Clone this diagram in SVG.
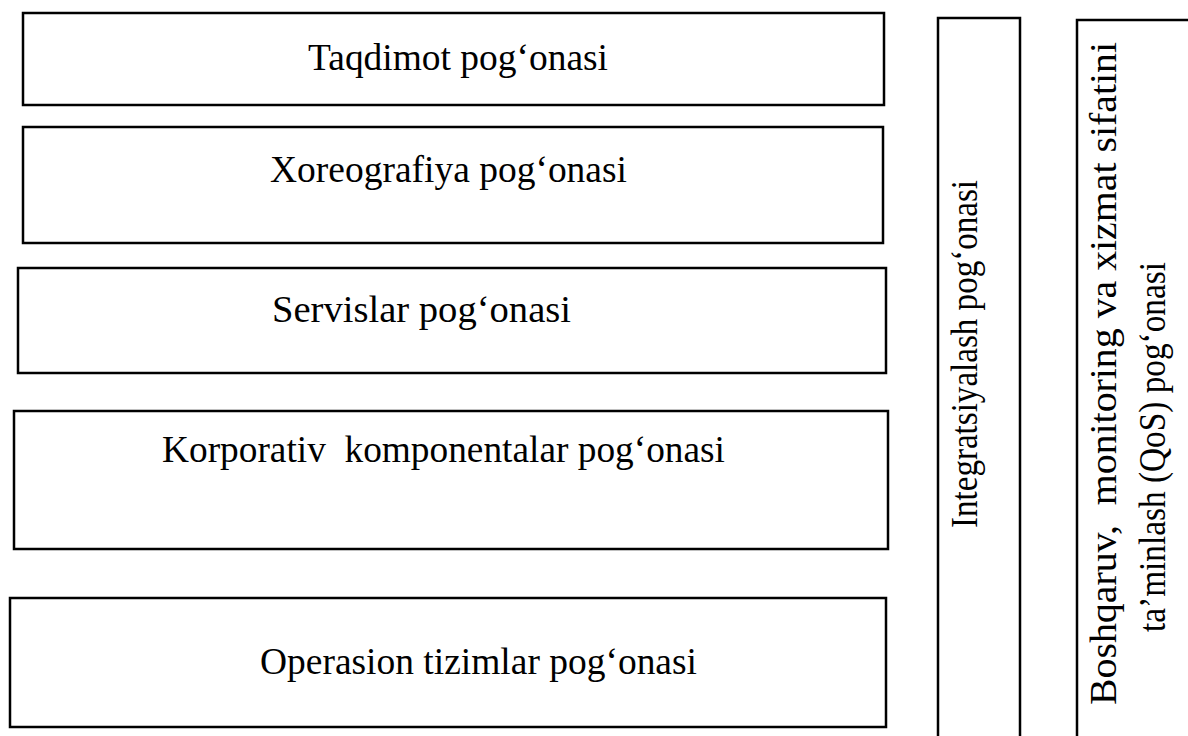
<svg xmlns="http://www.w3.org/2000/svg" width="1188" height="736" viewBox="0 0 1188 736">
<style>
.box{fill:#fff;stroke:#000;stroke-width:2.5}
.t{font-family:"Liberation Serif","Times New Roman",Tinos,serif;font-size:37px;fill:#000}
.v{font-family:"Liberation Serif","Times New Roman",Tinos,serif;font-size:38px;fill:#000}
</style>
<rect width="1188" height="736" fill="#fff"/>
<g id="taqdimot"><rect class="box" x="23" y="13" width="861" height="92"/><text class="t" x="308" y="70" textLength="300" lengthAdjust="spacingAndGlyphs">Taqdimot pog‘onasi</text></g>
<g id="xoreografiya"><rect class="box" x="23" y="127" width="860" height="116"/><text class="t" x="270" y="182" textLength="357" lengthAdjust="spacingAndGlyphs">Xoreografiya pog‘onasi</text></g>
<g id="servislar"><rect class="box" x="18" y="268" width="868" height="105"/><text class="t" x="272" y="322" textLength="299" lengthAdjust="spacingAndGlyphs">Servislar pog‘onasi</text></g>
<g id="korporativ"><rect class="box" x="14" y="411" width="874" height="138"/><text class="t" x="162" y="462" textLength="563" lengthAdjust="spacingAndGlyphs" xml:space="preserve">Korporativ  komponentalar pog‘onasi</text></g>
<g id="operasion"><rect class="box" x="10" y="598" width="876" height="129"/><text class="t" x="260" y="674" textLength="437" lengthAdjust="spacingAndGlyphs">Operasion tizimlar pog‘onasi</text></g>
<g id="integratsiyalash"><rect class="box" x="938" y="18" width="82" height="730"/><text class="v" transform="translate(977,528) rotate(-90)" textLength="348" lengthAdjust="spacingAndGlyphs">Integratsiyalash pog‘onasi</text></g>
<g id="boshqaruv"><rect class="box" x="1077" y="20" width="130" height="730"/><text class="v" transform="translate(1116,705) rotate(-90)" textLength="663" lengthAdjust="spacingAndGlyphs" xml:space="preserve">Boshqaruv,  monitoring va xizmat sifatini</text><text class="v" transform="translate(1165,632) rotate(-90)" textLength="370" lengthAdjust="spacingAndGlyphs">ta’minlash (QoS) pog‘onasi</text></g>
<g id="connectors"></g>
</svg>
